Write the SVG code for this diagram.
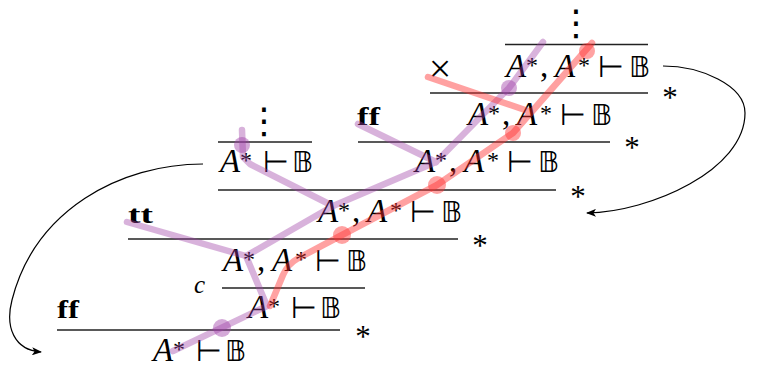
<svg xmlns="http://www.w3.org/2000/svg" width="758" height="370" viewBox="0 0 758 370">
<defs>
<style>
.it{font-family:"Liberation Serif",serif;font-style:italic;font-size:33px;fill:#000}
.rm{font-family:"Liberation Serif",serif;font-size:33px;fill:#000}
.sup{font-family:"Liberation Serif",serif;font-size:24px;fill:#000}
.op{font-family:"DejaVu Sans",sans-serif;font-size:30px;fill:#000}
.bb{font-family:"DejaVu Sans",sans-serif;font-size:29px;fill:#000}
.bf{font-family:"Liberation Serif",serif;font-weight:bold;font-size:26px;fill:#000}
.lab{font-family:"Liberation Serif",serif;font-size:31px;fill:#000}
.vd{font-family:"DejaVu Sans",sans-serif;font-size:36px;fill:#000}
.rule{stroke:#222;stroke-width:1.3;fill:none}
.arr{stroke:#000;stroke-width:1.2;fill:none;marker-end:url(#tip)}
.pl{stroke:#a040a8;stroke-width:6.5;fill:none;stroke-linecap:round;stroke-linejoin:round}
.rl{stroke:#ff3030;stroke-width:6.5;fill:none;stroke-linecap:round;stroke-linejoin:round}
.pc{fill:#a040a8;opacity:0.45}
.rc{fill:#ff3030;opacity:0.45}
</style>
<marker id="tip" viewBox="0 0 10 8" refX="9" refY="4" markerWidth="10" markerHeight="8" markerUnits="userSpaceOnUse" orient="auto">
<path d="M0,0 L10,4 L0,8 L2.5,4 z" fill="#000"/>
</marker>
</defs>

<g id="rules">
<line class="rule" x1="505" y1="44.5" x2="648" y2="44.5"/>
<line class="rule" x1="430" y1="93" x2="648" y2="93"/>
<line class="rule" x1="358" y1="142" x2="610" y2="142"/>
<line class="rule" x1="218" y1="142" x2="312" y2="142"/>
<line class="rule" x1="218" y1="190" x2="556" y2="190"/>
<line class="rule" x1="128" y1="239" x2="458" y2="239"/>
<line class="rule" x1="222" y1="288" x2="365" y2="288"/>
<line class="rule" x1="57" y1="330" x2="340" y2="330"/>
</g>

<g id="n1" transform="translate(506,77)">
<text><tspan class="it" x="0" y="0">A</tspan><tspan class="sup" x="20" y="-4">*</tspan><tspan class="rm" x="34" y="0">,</tspan><tspan class="it" x="49" y="0">A</tspan><tspan class="sup" x="72" y="-4">*</tspan><tspan class="op" x="92" y="0">⊢</tspan><tspan class="bb" x="123" y="0">𝔹</tspan></text>
</g>
<g id="n2" transform="translate(468,125)">
<text><tspan class="it" x="0" y="0">A</tspan><tspan class="sup" x="20" y="-4">*</tspan><tspan class="rm" x="34" y="0">,</tspan><tspan class="it" x="49" y="0">A</tspan><tspan class="sup" x="72" y="-4">*</tspan><tspan class="op" x="92" y="0">⊢</tspan><tspan class="bb" x="123" y="0">𝔹</tspan></text>
</g>
<g id="n3" transform="translate(415,172)">
<text><tspan class="it" x="0" y="0">A</tspan><tspan class="sup" x="20" y="-4">*</tspan><tspan class="rm" x="34" y="0">,</tspan><tspan class="it" x="49" y="0">A</tspan><tspan class="sup" x="72" y="-4">*</tspan><tspan class="op" x="92" y="0">⊢</tspan><tspan class="bb" x="123" y="0">𝔹</tspan></text>
</g>
<g id="n3l" transform="translate(220,172)">
<text><tspan class="it" x="0" y="0">A</tspan><tspan class="sup" x="20" y="-4">*</tspan><tspan class="op" x="43" y="0">⊢</tspan><tspan class="bb" x="72" y="0">𝔹</tspan></text>
</g>
<g id="n4" transform="translate(318,222)">
<text><tspan class="it" x="0" y="0">A</tspan><tspan class="sup" x="20" y="-4">*</tspan><tspan class="rm" x="34" y="0">,</tspan><tspan class="it" x="49" y="0">A</tspan><tspan class="sup" x="72" y="-4">*</tspan><tspan class="op" x="92" y="0">⊢</tspan><tspan class="bb" x="123" y="0">𝔹</tspan></text>
</g>
<g id="n5" transform="translate(223,271)">
<text><tspan class="it" x="0" y="0">A</tspan><tspan class="sup" x="20" y="-4">*</tspan><tspan class="rm" x="34" y="0">,</tspan><tspan class="it" x="49" y="0">A</tspan><tspan class="sup" x="72" y="-4">*</tspan><tspan class="op" x="92" y="0">⊢</tspan><tspan class="bb" x="123" y="0">𝔹</tspan></text>
</g>
<g id="n6" transform="translate(248,318)">
<text><tspan class="it" x="0" y="0">A</tspan><tspan class="sup" x="20" y="-4">*</tspan><tspan class="op" x="43" y="0">⊢</tspan><tspan class="bb" x="72" y="0">𝔹</tspan></text>
</g>
<g id="n7" transform="translate(153,361)">
<text><tspan class="it" x="0" y="0">A</tspan><tspan class="sup" x="20" y="-4">*</tspan><tspan class="op" x="43" y="0">⊢</tspan><tspan class="bb" x="72" y="0">𝔹</tspan></text>
</g>

<g id="labels">
<text class="vd" x="576" y="35" text-anchor="middle">⋮</text>
<text class="vd" x="264" y="133" text-anchor="middle">⋮</text>
<text x="440" y="82" text-anchor="middle" style="font-family:'Liberation Serif',serif;font-size:40px">×</text>
<text class="bf" x="357" y="125" textLength="23" lengthAdjust="spacingAndGlyphs">ff</text>
<text class="bf" x="128" y="223" textLength="25" lengthAdjust="spacingAndGlyphs">tt</text>
<text class="bf" x="57" y="318" textLength="22" lengthAdjust="spacingAndGlyphs">ff</text>
<text x="194" y="293" style="font-family:'Liberation Serif',serif;font-style:italic;font-size:25px">c</text>
<text class="lab" x="670" y="108" text-anchor="middle">*</text>
<text class="lab" x="632" y="158" text-anchor="middle">*</text>
<text class="lab" x="578" y="207" text-anchor="middle">*</text>
<text class="lab" x="480" y="256" text-anchor="middle">*</text>
<text class="lab" x="363" y="347" text-anchor="middle">*</text>
</g>

<g id="traces">
<g opacity="0.4">
<path class="pl" d="M543,42 L509,88 L436,162 L333,206 L246,256 L267,306 L173,351"/>
<path class="pl" d="M358,124 L436,162"/>
<path class="pl" d="M242,130 L243,157 L250,164 L333,206"/>
<path class="pl" d="M127,222 L246,256"/>
</g>
<circle class="pc" cx="509" cy="88" r="8"/>
<circle class="pc" cx="242" cy="145" r="8"/>
<circle class="pc" cx="222" cy="328" r="9"/>
<g opacity="0.45">
<path class="rl" d="M592,43 L513,133 L437,185 L342,235 L297,259 Q288,264 283,275 L270,306"/>
<path class="rl" d="M428,77 L531,112"/>
</g>
<circle class="rc" cx="587" cy="51" r="8"/>
<circle class="rc" cx="513" cy="133" r="8"/>
<circle class="rc" cx="437" cy="185" r="9"/>
<circle class="rc" cx="342" cy="235" r="9"/>
</g>

<g id="connectors">
<path class="arr" d="M663,66 C700,66 745,85 745,113 C745,170 650,212 587,213"/>
<path class="arr" d="M203,164 C120,164 35,210 12,300 C5,327 14,350 41,352"/>
</g>
</svg>
